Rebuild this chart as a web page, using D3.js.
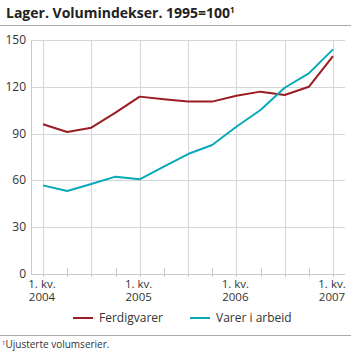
<!DOCTYPE html>
<html><head><meta charset="utf-8">
<script src="https://cdn.jsdelivr.net/npm/d3@7"></script>
<style>body{margin:0;background:#fff}svg{display:block;font-family:"Open Sans",sans-serif}</style>
</head><body><svg id="c" width="351" height="351"></svg>
<script>
const quarters = ["2004Q1","2004Q2","2004Q3","2004Q4","2005Q1","2005Q2","2005Q3","2005Q4","2006Q1","2006Q2","2006Q3","2006Q4","2007Q1"];
const ferdigvarer = [96.0,91.0,93.8,103.4,113.7,112.0,110.5,110.5,114.3,116.9,114.7,120.0,139.7];
const varerIArbeid = [56.8,53.2,57.7,62.4,60.7,68.8,76.9,82.7,94.4,105.1,119.4,128.6,144.0];
const yTicks = [0,30,60,90,120,150];
const xLabels = {"2004Q1":["1. kv.","2004"],"2005Q1":["1. kv.","2005"],"2006Q1":["1. kv.","2006"],"2007Q1":["1. kv.","2007"]};
const seriesNames = ["Ferdigvarer","Varer i arbeid"];
const colors = ["#9b1c22","#0aa9b8"];

const svg = d3.select("#c");
const x = d3.scalePoint().domain(quarters).range([43,333]);
const y = d3.scaleLinear().domain([0,150]).range([274,40]);
const left = 31, right = 345;

const t = svg.append("text").attr("x",6).attr("y",18).attr("font-size",14).attr("font-weight","bold").attr("fill","#222");
t.append("tspan").text("Lager. Volumindekser. 1995=100");
t.append("tspan").attr("font-size",8).attr("dy",-5).text("1");
svg.append("line").attr("x1",0).attr("x2",351).attr("y1",25.5).attr("y2",25.5).attr("stroke","#aaa");

svg.selectAll(".hg").data(yTicks.filter(d=>d>0)).join("line")
  .attr("x1",left).attr("x2",right).attr("y1",d=>Math.round(y(d))+0.5).attr("y2",d=>Math.round(y(d))+0.5)
  .attr("stroke","#d4d6dc").attr("stroke-width",1);
svg.selectAll(".vg").data(quarters.filter((d,i)=>i%2===0)).join("line")
  .attr("x1",d=>Math.round(x(d))+0.5).attr("x2",d=>Math.round(x(d))+0.5).attr("y1",40).attr("y2",274)
  .attr("stroke","#d4d6dc").attr("stroke-width",1);
svg.selectAll(".st").data(quarters.filter((d,i)=>i%2===1)).join("line")
  .attr("x1",d=>Math.round(x(d))+0.5).attr("x2",d=>Math.round(x(d))+0.5).attr("y1",268).attr("y2",274)
  .attr("stroke","#c8cad0");
svg.append("line").attr("x1",left+0.5).attr("x2",left+0.5).attr("y1",40).attr("y2",274).attr("stroke","#c8cad0");
svg.append("line").attr("x1",left).attr("x2",right).attr("y1",274.5).attr("y2",274.5).attr("stroke","#c8cad0");
svg.selectAll(".bt").data(quarters).join("line")
  .attr("x1",d=>Math.round(x(d))+0.5).attr("x2",d=>Math.round(x(d))+0.5).attr("y1",274).attr("y2",277)
  .attr("stroke","#c8cad0");

svg.selectAll(".yl").data(yTicks).join("text")
  .attr("x",26).attr("y",d=>y(d)+4).attr("text-anchor","end").attr("font-size",12).attr("fill","#333").text(d=>d);
const xq = quarters.filter(q=>xLabels[q]);
svg.selectAll(".xl1").data(xq).join("text")
  .attr("x",d=>x(d)-1).attr("y",288).attr("font-size",11.5).attr("fill","#333").attr("text-anchor","middle").text(d=>xLabels[d][0]);
svg.selectAll(".xl2").data(xq).join("text")
  .attr("x",d=>x(d)-1).attr("y",301).attr("font-size",11.5).attr("fill","#333").attr("text-anchor","middle").text(d=>xLabels[d][1]);

const line = d3.line().x((d,i)=>x(quarters[i])).y(d=>y(d));
[ferdigvarer,varerIArbeid].forEach((s,i)=>{
  svg.append("path").attr("d",line(s)).attr("fill","none").attr("stroke",colors[i]).attr("stroke-width",2).attr("stroke-linejoin","round");
});

const lg = [[73,99],[190,216]];
seriesNames.forEach((n,i)=>{
  svg.append("line").attr("x1",lg[i][0]).attr("x2",lg[i][0]+20).attr("y1",318).attr("y2",318).attr("stroke",colors[i]).attr("stroke-width",2);
  svg.append("text").attr("x",lg[i][1]).attr("y",322).attr("font-size",12).attr("fill","#333").text(n);
});
svg.append("line").attr("x1",0).attr("x2",351).attr("y1",335.5).attr("y2",335.5).attr("stroke","#aaa");
const f = svg.append("text").attr("x",2).attr("y",348).attr("font-size",10).attr("fill","#333");
f.append("tspan").attr("font-size",6).attr("dy",-3).text("1");
f.append("tspan").attr("dy",3).text("Ujusterte volumserier.");
</script></body></html>
